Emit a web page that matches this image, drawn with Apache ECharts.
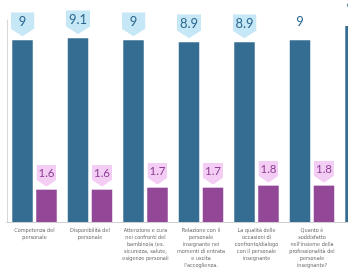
<!DOCTYPE html>
<html><head><meta charset="utf-8">
<script src="https://cdn.jsdelivr.net/npm/echarts@6/dist/echarts.min.js"></script>
<style>html,body{margin:0;padding:0;background:#fff}#c{width:348px;height:270px}</style>
</head><body><div id="c"></div>
<script>
const categories = [
  "Competenza del\npersonale",
  "Disponibilità del\npersonale",
  "Attenzione e cura\nnei confronti del\nbambino/a (es.\nsicurezza, salute,\nesigenze personali",
  "Relazione con il\npersonale\ninsegnante nei\nmomenti di entrata\ne uscita\nl'accoglienza.",
  "La qualità delle\noccasioni di\nconfronto/dialogo\ncon il personale\ninsegnante",
  "Quanto è\nsoddisfatto\nnell'insieme della\nprofessionalità del\npersonale\ninsegnante?",
  "Quanto è\nIl servizio"
];
const blueValues = [9, 9.1, 9, 8.9, 8.9, 9, 9.7];
const purpleValues = [1.6, 1.6, 1.7, 1.7, 1.8, 1.8, 1.8];
const blueBoxed = [true, true, true, true, true, false, false];

function bg(color){
  const svg = '<svg xmlns="http://www.w3.org/2000/svg" width="24" height="22" viewBox="0 0 24 22" preserveAspectRatio="none"><path d="M0 0H24V15L12 22L0 15Z" fill="' + color + '"/></svg>';
  return {image: 'data:image/svg+xml;charset=utf-8,' + encodeURIComponent(svg)};
}
const blueBg = bg('#c6e7f6');
const pinkBg = bg('#f4cdf4');

const chart = echarts.init(document.getElementById('c'), null, {renderer:'canvas'});
chart.setOption({
  animation:false,
  grid:{left:6.75, top:20, bottom:48, width:388.5, containLabel:false, outerBoundsMode:'none'},
  xAxis:{type:'category', data:categories,
    axisLine:{lineStyle:{color:'#cfcfcf', width:1}}, axisTick:{show:false},
    axisLabel:{interval:0, margin:5, hideOverlap:false, fontFamily:"'Liberation Sans Narrow','DejaVu Sans Condensed',sans-serif", fontSize:5.5, lineHeight:7.1, color:'#6a6a6a'}},
  yAxis:{type:'value', min:0, max:10, axisLine:{show:true, lineStyle:{color:'#d8d8d8'}},
    axisTick:{show:false}, axisLabel:{show:false}, splitLine:{show:false}},
  series:[
    {type:'bar', barWidth:20.5, barGap:'17%',
     itemStyle:{color:'#356d92'},
     data: blueValues.map((v,i)=>({value:v, label: blueBoxed[i] ? {backgroundColor: blueBg, padding:[3,4,8,4]} : {backgroundColor:'transparent', padding:[3,4,8,4]}})),
     label:{show:true, position:'top', distance:4, formatter:'{a|{c}}',
       rich:{a:{width:16, align:'center', fontFamily:'Lato, sans-serif', fontSize:13, lineHeight:13, color:'#2b6890'}}}},
    {type:'bar', barWidth:20.5,
     itemStyle:{color:'#924797'},
     data: purpleValues,
     label:{show:true, position:'top', distance:3, formatter:'{a|{c}}', backgroundColor: pinkBg, padding:[3,3,7,3],
       rich:{a:{width:14, align:'center', fontFamily:'Lato, sans-serif', fontSize:11.5, lineHeight:12, color:'#8d3f93'}}}}
  ]
});
</script></body></html>
